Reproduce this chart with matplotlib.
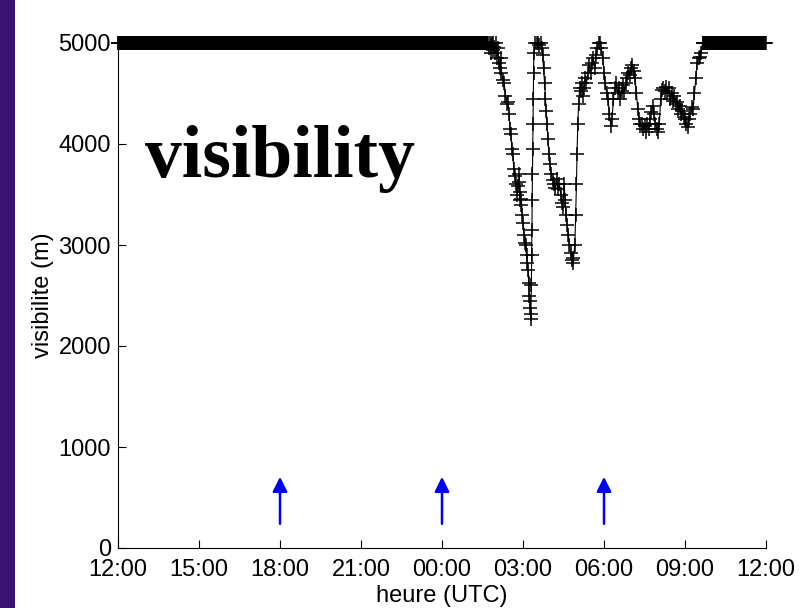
import numpy as np
import matplotlib
matplotlib.use("Agg")
import matplotlib.pyplot as plt
from matplotlib.patches import Rectangle

plt.rcParams['font.family'] = ['Liberation Sans', 'DejaVu Sans']

# hours counted from 12:00 (UTC) of the first day
tick_hours = [0, 3, 6, 9, 12, 15, 18, 21, 24]
tick_labels = ["12:00", "15:00", "18:00", "21:00", "00:00", "03:00", "06:00", "09:00", "12:00"]
y_ticks = [0, 1000, 2000, 3000, 4000, 5000]

# flat part (visibility capped at 5000 m), 1 minute sampling
t_start = np.arange(0, 13.70, 1 / 60)
v_start = np.full(len(t_start), 5000.0)
t_end = np.arange(21.67, 24.0, 1 / 60)
v_end = np.full(len(t_end), 5000.0)

# fog event
t_fog = [13.72, 13.75, 13.78, 13.80, 13.83, 13.85, 13.88, 13.90, 13.93, 13.96,
         14.00, 14.03, 14.07, 14.10, 14.13, 14.17, 14.20, 14.25, 14.30, 14.35,
         14.40, 14.44, 14.48, 14.52, 14.55, 14.59, 14.62, 14.66, 14.70, 14.74,
         14.78, 14.81, 14.84, 14.86, 14.88, 14.90, 14.92, 14.94, 14.97, 15.00,
         15.04, 15.07, 15.10, 15.13, 15.16, 15.19, 15.21, 15.23, 15.25, 15.27,
         15.28, 15.29, 15.31, 15.32, 15.33, 15.34, 15.35, 15.36, 15.37, 15.38,
         15.39, 15.40, 15.45, 15.50, 15.55, 15.60, 15.65, 15.70, 15.73, 15.76,
         15.80, 15.83, 15.86, 15.89, 15.92, 15.96, 16.00, 16.05, 16.10, 16.15,
         16.20, 16.25, 16.30, 16.35, 16.40, 16.44, 16.48, 16.52, 16.56, 16.60,
         16.64, 16.68, 16.72, 16.76, 16.80, 16.84, 16.87, 16.92, 16.95, 16.98,
         17.00, 17.03, 17.06, 17.10, 17.14, 17.18, 17.22, 17.26, 17.30, 17.35,
         17.40, 17.45, 17.50, 17.55, 17.60, 17.65, 17.70, 17.75, 17.80, 17.85,
         17.90, 17.95, 18.00, 18.05, 18.10, 18.15, 18.20, 18.25, 18.30, 18.35,
         18.40, 18.45, 18.50, 18.55, 18.60, 18.65, 18.70, 18.75, 18.80, 18.85,
         18.90, 18.95, 19.00, 19.05, 19.10, 19.15, 19.20, 19.25, 19.30, 19.35,
         19.40, 19.45, 19.50, 19.55, 19.60, 19.65, 19.70, 19.75, 19.80, 19.85,
         19.90, 19.95, 20.00, 20.05, 20.10, 20.15, 20.20, 20.25, 20.30, 20.35,
         20.40, 20.45, 20.50, 20.55, 20.60, 20.65, 20.70, 20.75, 20.80, 20.85,
         20.90, 20.95, 21.00, 21.05, 21.10, 21.15, 21.20, 21.25, 21.30, 21.35,
         21.40, 21.45, 21.50, 21.55, 21.60, 21.65]
v_fog = [5000, 4950, 5000, 4900, 4980, 5000, 4930, 5000, 4960, 4900,
         5000, 4850, 4950, 4800, 4750, 4850, 4700, 4630, 4600, 4480,
         4400, 4420, 4300, 4150, 4100, 3950, 3900, 3750, 3680, 3600,
         3500, 3580, 3700, 3620, 3450, 3520, 3400, 3460, 3300, 3220,
         3100, 3020, 3000, 2900, 2820, 2750, 2620, 2500, 2450, 2380,
         2320, 2270, 2600, 2900, 3150, 3450, 3700, 3950, 4200, 4450,
         4700, 4900, 5000, 5000, 5000, 4980, 5000, 4950, 4880, 4750,
         4600, 4450, 4330, 4200, 4050, 3900, 3800, 3700, 3640, 3600,
         3560, 3650, 3550, 3600, 3500, 3420, 3380, 3600, 3450, 3300,
         3200, 3100, 3000, 2920, 2850, 2820, 2870, 3000, 3300, 3600,
         3900, 4200, 4400, 4550, 4520, 4600, 4480, 4550, 4650, 4600,
         4700, 4780, 4700, 4800, 4850, 4750, 4880, 4950, 5000, 5000,
         4950, 4850, 4700, 4600, 4500, 4450, 4300, 4180, 4250, 4450,
         4550, 4600, 4500, 4550, 4450, 4520, 4580, 4500, 4600, 4650,
         4700, 4680, 4750, 4780, 4720, 4650, 4500, 4350, 4250, 4200,
         4200, 4150, 4180, 4120, 4200, 4150, 4250, 4320, 4380, 4300,
         4200, 4150, 4120, 4200, 4450, 4530, 4550, 4520, 4560, 4500,
         4550, 4450, 4500, 4430, 4480, 4400, 4420, 4350, 4380, 4300,
         4330, 4270, 4250, 4200, 4170, 4250, 4300, 4370, 4350, 4500,
         4650, 4800, 4850, 4860, 4900, 5000]

t_all = np.concatenate([t_start, t_fog, t_end])
v_all = np.concatenate([v_start, v_fog, v_end])

arrow_hours = [6, 12, 18]
arrow_base = 240
arrow_tip = 705

fig = plt.figure(figsize=(8.01, 6.08), dpi=100)
fig.patches.append(Rectangle((0, 0), 15 / 801, 1, transform=fig.transFigure,
                             facecolor="#3a1470", edgecolor="none"))

ax = fig.add_axes([118 / 801, 1 - 548 / 608, 648 / 801, 505 / 608])
ax.plot(t_all, v_all, color="black", lw=0.8, marker="+", markersize=10,
        markeredgewidth=1.1, clip_on=False)

for h in arrow_hours:
    ax.annotate("", xy=(h, arrow_tip), xytext=(h, arrow_base),
                arrowprops=dict(arrowstyle="-|>", color="blue", lw=1.8,
                                mutation_scale=22, shrinkA=0, shrinkB=0))

ax.text(1.0, 3670, "visibility", fontsize=53, fontweight="bold",
        family="Liberation Serif", va="baseline", ha="left")

ax.set_xlim(0, 24)
ax.set_ylim(0, 5000)
ax.set_xticks(tick_hours)
ax.set_xticklabels(tick_labels)
ax.set_yticks(y_ticks)
ax.tick_params(direction="in", length=6, labelsize=17, width=0.8)
ax.tick_params(axis="x", pad=8)
ax.tick_params(axis="y", pad=5)
ax.spines["top"].set_visible(False)
ax.spines["right"].set_visible(False)
ax.set_xlabel("heure (UTC)", fontsize=17, labelpad=2.5)
ax.set_ylabel("visibilite (m)", fontsize=17, labelpad=3)

plt.savefig("out.png", dpi=100)
